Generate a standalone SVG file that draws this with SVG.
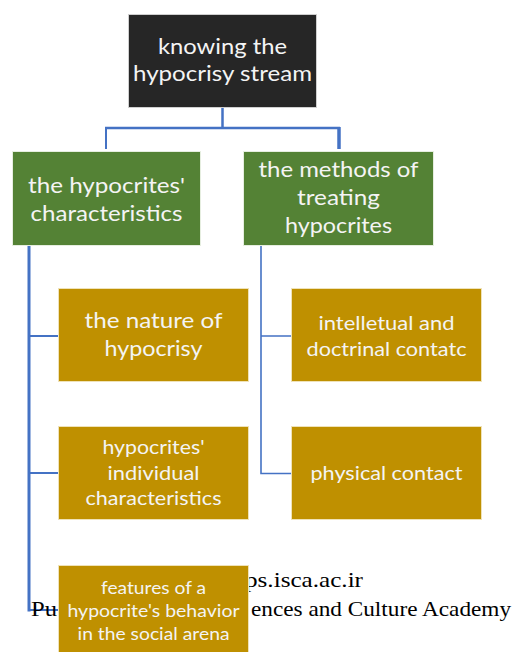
<svg xmlns="http://www.w3.org/2000/svg" width="513" height="652" viewBox="0 0 513 652">
<style>
.root{fill:#262626;stroke:#cfcfcf;stroke-width:1}
.green{fill:#548235;stroke:#e6eee0;stroke-width:1}
.gold{fill:#BF9000;stroke:#efe2b8;stroke-width:1}
.t{font-family:Lato,"Open Sans","Liberation Sans",sans-serif;fill:#f4f4f4;text-anchor:middle}
.c{stroke:#4472C4;fill:none;stroke-linecap:butt}
.w{font-family:"Liberation Serif","Times New Roman",serif;font-size:21px;fill:#000}
</style>
<rect width="513" height="652" fill="#fff"/>
<g id="connectors">
<path class="c" stroke-width="2.5" d="M222.5,108 V128 M105,128 H340"/>
<path class="c" stroke-width="2" d="M106,127 V149"/>
<path class="c" stroke-width="3.5" d="M339,127 V149"/>
<path class="c" stroke-width="3" d="M29,246 V611.5"/>
<path class="c" stroke-width="2" d="M28,336 H58 M28,473 H58 M28,610 H58"/>
<path class="c" stroke-width="1.6" d="M261,246 V473.5 H291 M261,336 H291"/>
</g>
<g id="watermark">
<text class="w" x="245" y="587" textLength="118" lengthAdjust="spacingAndGlyphs">ps.isca.ac.ir</text>
<text class="w" x="31" y="616" textLength="26" lengthAdjust="spacingAndGlyphs">Pu</text>
<text class="w" x="251" y="616" textLength="260" lengthAdjust="spacingAndGlyphs">ences and Culture Academy</text>
</g>
<g id="root">
<rect class="root" x="128.5" y="14.5" width="188" height="93"/>
<text class="t" font-size="22" x="222.5" y="54" textLength="129" lengthAdjust="spacingAndGlyphs">knowing the</text>
<text class="t" font-size="22" x="222.5" y="81" textLength="179" lengthAdjust="spacingAndGlyphs">hypocrisy stream</text>
</g>
<g id="char">
<rect class="green" x="12.5" y="151.5" width="188" height="94"/>
<text class="t" font-size="22" x="106.5" y="193" textLength="157" lengthAdjust="spacingAndGlyphs">the hypocrites'</text>
<text class="t" font-size="22" x="106.5" y="221" textLength="152" lengthAdjust="spacingAndGlyphs">characteristics</text>
</g>
<g id="methods">
<rect class="green" x="243.5" y="151.5" width="190" height="94"/>
<text class="t" font-size="22" x="338.5" y="177" textLength="160" lengthAdjust="spacingAndGlyphs">the methods of</text>
<text class="t" font-size="22" x="338.5" y="205" textLength="83" lengthAdjust="spacingAndGlyphs">treating</text>
<text class="t" font-size="22" x="338.5" y="233" textLength="107" lengthAdjust="spacingAndGlyphs">hypocrites</text>
</g>
<g id="nature">
<rect class="gold" x="58.5" y="288.5" width="190" height="93"/>
<text class="t" font-size="21" x="153.5" y="328" textLength="138" lengthAdjust="spacingAndGlyphs">the nature of</text>
<text class="t" font-size="21" x="153.5" y="356" textLength="98" lengthAdjust="spacingAndGlyphs">hypocrisy</text>
</g>
<g id="individual">
<rect class="gold" x="58.5" y="426.5" width="190" height="93"/>
<text class="t" font-size="19" x="153.5" y="454" textLength="102" lengthAdjust="spacingAndGlyphs">hypocrites'</text>
<text class="t" font-size="19" x="153.5" y="480" textLength="92" lengthAdjust="spacingAndGlyphs">individual</text>
<text class="t" font-size="19" x="153.5" y="505" textLength="136" lengthAdjust="spacingAndGlyphs">characteristics</text>
</g>
<g id="social">
<rect class="gold" x="58.5" y="565.5" width="190" height="92"/>
<text class="t" font-size="17" x="153.5" y="594" textLength="105" lengthAdjust="spacingAndGlyphs">features of a</text>
<text class="t" font-size="17" x="153.5" y="617" textLength="172" lengthAdjust="spacingAndGlyphs">hypocrite's behavior</text>
<text class="t" font-size="17" x="153.5" y="640" textLength="152" lengthAdjust="spacingAndGlyphs">in the social arena</text>
</g>
<g id="intellectual">
<rect class="gold" x="291.5" y="288.5" width="190" height="93"/>
<text class="t" font-size="19" x="386.5" y="330" textLength="136" lengthAdjust="spacingAndGlyphs">intelletual and</text>
<text class="t" font-size="19" x="386.5" y="356" textLength="160" lengthAdjust="spacingAndGlyphs">doctrinal contatc</text>
</g>
<g id="physical">
<rect class="gold" x="291.5" y="426.5" width="190" height="93"/>
<text class="t" font-size="19" x="386.5" y="480" textLength="152" lengthAdjust="spacingAndGlyphs">physical contact</text>
</g>
</svg>
